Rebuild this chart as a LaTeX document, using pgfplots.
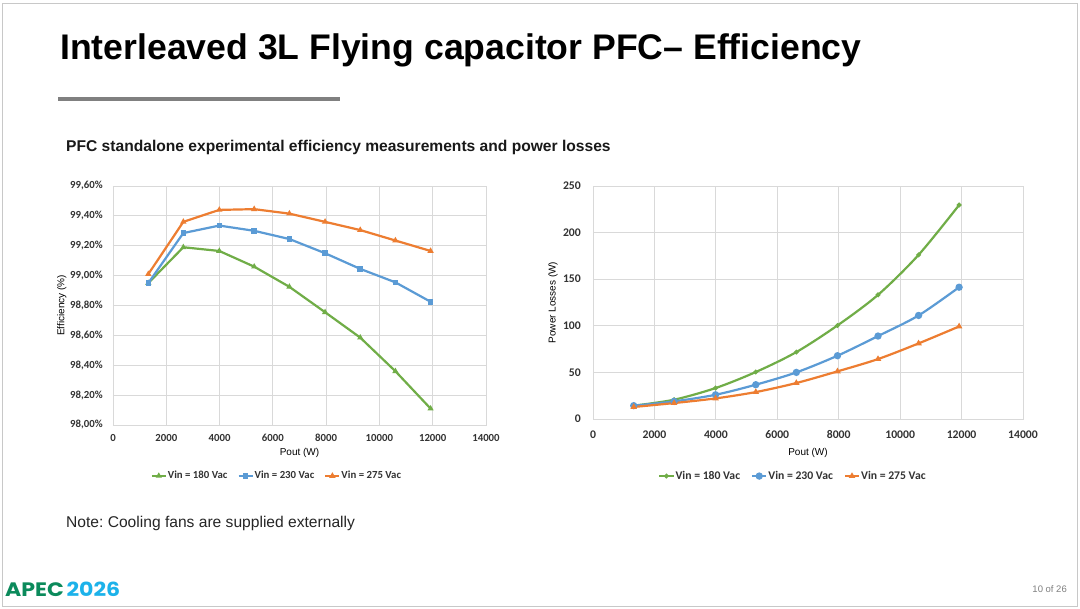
\documentclass[border=0pt]{standalone}
\usepackage{pgfplots}
\pgfplotsset{compat=1.18}
\usepackage{fontspec}
\setmainfont{Liberation Sans}
\newfontfamily\chartfont{Carlito}
\newfontfamily\logofont{Poppins}
\definecolor{cgreen}{HTML}{70AD47}
\definecolor{cblue}{HTML}{5B9BD5}
\definecolor{corange}{HTML}{ED7D31}
\definecolor{gridgray}{HTML}{D9D9D9}
\definecolor{txtgray}{HTML}{333333}
\definecolor{apecgreen}{HTML}{0B8A5B}
\definecolor{apeccyan}{HTML}{1CB2EA}
\definecolor{framegray}{HTML}{C8C8C8}
\newcommand{\cf}{\chartfont\bfseries\fontsize{10.8}{13}\selectfont}
\newcommand{\cfb}{\chartfont\bfseries\fontsize{11.7}{14}\selectfont}

\pgfplotsset{
  slidechart/.style={
    scale only axis,
    axis line style={draw=gridgray,line width=0.8pt},
    grid=major,
    grid style={gridgray,line width=0.8pt},
    major tick length=0pt,
    scaled x ticks=false,
    tick label style={font=\cf, text=txtgray},
    label style={font=\cf, text=txtgray},
    /pgf/number format/assume math mode=true,
    xmin=0, xmax=14000,
    xtick={0,2000,4000,6000,8000,10000,12000,14000},
    xticklabel style={/pgf/number format/1000 sep={}, anchor=center, yshift=-13pt},
    yticklabel style={anchor=east, inner sep=0pt, xshift=-10pt},
    every axis plot/.append style={line width=2.2pt},
    legend columns=3,
    legend style={draw=none, fill=none, font=\cf, text=txtgray,
      /tikz/every even column/.append style={column sep=9pt},
      nodes={inner sep=1pt}},
    legend image code/.code={\draw[mark repeat=2,mark phase=2,line width=2.2pt,#1] plot coordinates {(0pt,0pt) (7pt,0pt) (14pt,0pt)};},
  }
}

\begin{document}
\frenchspacing
\begin{tikzpicture}
\useasboundingbox (0,0) rectangle (1080pt,-609pt);
\fill[white] (0,0) rectangle (1080pt,-609pt);
\begin{scope}[x=1pt,y=-1pt]
  \draw[framegray,line width=1pt] (2.5,3.5) rectangle (1077.5,606);
  \node[anchor=base west,inner sep=0pt] at (60,60)
    {\fontsize{35.6}{40}\selectfont\bfseries Interleaved 3L Flying capacitor PFC– Efficiency};
  \fill[black!50] (58,97.5) rectangle (340,101);
  \node[anchor=base west,inner sep=0pt,text=black!90] at (66,152)
    {\fontsize{15.6}{18}\selectfont\bfseries PFC standalone experimental efficiency measurements and power losses};
  \node[anchor=base west,inner sep=0pt,text=black!85] at (66,528)
    {\fontsize{15.6}{18}\selectfont Note: Cooling fans are supplied externally};
  \node[anchor=base west,inner sep=0pt] at (5,597)
    {\resizebox{115pt}{14.5pt}{\logofont\bfseries\textcolor{apecgreen}{APEC}\kern0.12em\textcolor{apeccyan}{2026}}};
  \node[anchor=base east,inner sep=0pt,text=black!50] at (1067,593)
    {\fontsize{9.5}{11}\selectfont 10 of 26};
\end{scope}

% Left: efficiency
\begin{axis}[slidechart,
  at={(113pt,-425pt)}, anchor=south west,
  width=373pt, height=239pt,
  ymin=98, ymax=99.6,
  ytick={98,98.2,98.4,98.6,98.8,99,99.2,99.4,99.6},
  yticklabels={{98,00\%},{98,20\%},{98,40\%},{98,60\%},{98,80\%},{99,00\%},{99,20\%},{99,40\%},{99,60\%}},
  xlabel={Pout (W)}, ylabel={Efficiency (\%)},
  every axis x label/.style={at={(axis description cs:0.5,-0.117)},anchor=center},
  every axis y label/.style={at={(axis description cs:-0.137,0.5)},rotate=90,anchor=center},
  legend style={at={(axis description cs:0.438,-0.213)},anchor=center},
]
\addplot[cgreen, mark=triangle*, mark size=1.4pt] coordinates {
 (1325,98.95) (2640,99.19) (3990,99.165) (5300,99.06) (6620,98.925)
 (7960,98.755) (9280,98.585) (10600,98.36) (11920,98.11)};
\addlegendentry{Vin = 180 Vac}
\addplot[cblue, mark=square*, mark size=1.7pt] coordinates {
 (1325,98.95) (2640,99.285) (3990,99.335) (5300,99.30) (6620,99.245)
 (7960,99.15) (9280,99.045) (10600,98.955) (11920,98.825)};
\addlegendentry{Vin = 230 Vac}
\addplot[corange, mark=triangle*, mark size=1.5pt] coordinates {
 (1325,99.01) (2640,99.36) (3990,99.44) (5300,99.445) (6620,99.415)
 (7960,99.36) (9280,99.305) (10600,99.235) (11920,99.165)};
\addlegendentry{Vin = 275 Vac}
\end{axis}

% Right: power losses
\begin{axis}[slidechart,
  at={(593pt,-419pt)}, anchor=south west,
  width=430pt, height=233pt,
  ymin=0, ymax=250,
  ytick={0,50,100,150,200,250},
  tick label style={font=\cfb},
  label style={font=\cfb},
  yticklabel style={xshift=-2pt},
  xlabel={Pout (W)}, ylabel={Power Losses (W)},
  every axis x label/.style={at={(axis description cs:0.5,-0.146)},anchor=center},
  every axis y label/.style={at={(axis description cs:-0.093,0.5)},rotate=90,anchor=center},
  xticklabel style={yshift=-3pt},
  legend style={at={(axis description cs:0.464,-0.245)},anchor=center,font=\cfb,
    /tikz/every even column/.append style={column sep=10pt}},
]
\addplot[cgreen, smooth, mark=*, mark size=1.1pt] coordinates {
 (1325,14.3) (2640,20.7) (3990,33.2) (5300,50.4) (6620,71.8)
 (7960,100.4) (9280,133.2) (10600,176.1) (11920,229.6)};
\addlegendentry{Vin = 180 Vac}
\addplot[cblue, smooth, mark=*, mark size=2.5pt] coordinates {
 (1325,14.3) (2640,18.9) (3990,26.0) (5300,36.8) (6620,50.0)
 (7960,67.9) (9280,89.0) (10600,111.1) (11920,141.4)};
\addlegendentry{Vin = 230 Vac}
\addplot[corange, smooth, mark=triangle*, mark size=1.6pt] coordinates {
 (1325,12.9) (2640,17.1) (3990,22.1) (5300,28.9) (6620,38.6)
 (7960,51.1) (9280,64.3) (10600,81.1) (11920,99.3)};
\addlegendentry{Vin = 275 Vac}
\end{axis}
\end{tikzpicture}
\end{document}
